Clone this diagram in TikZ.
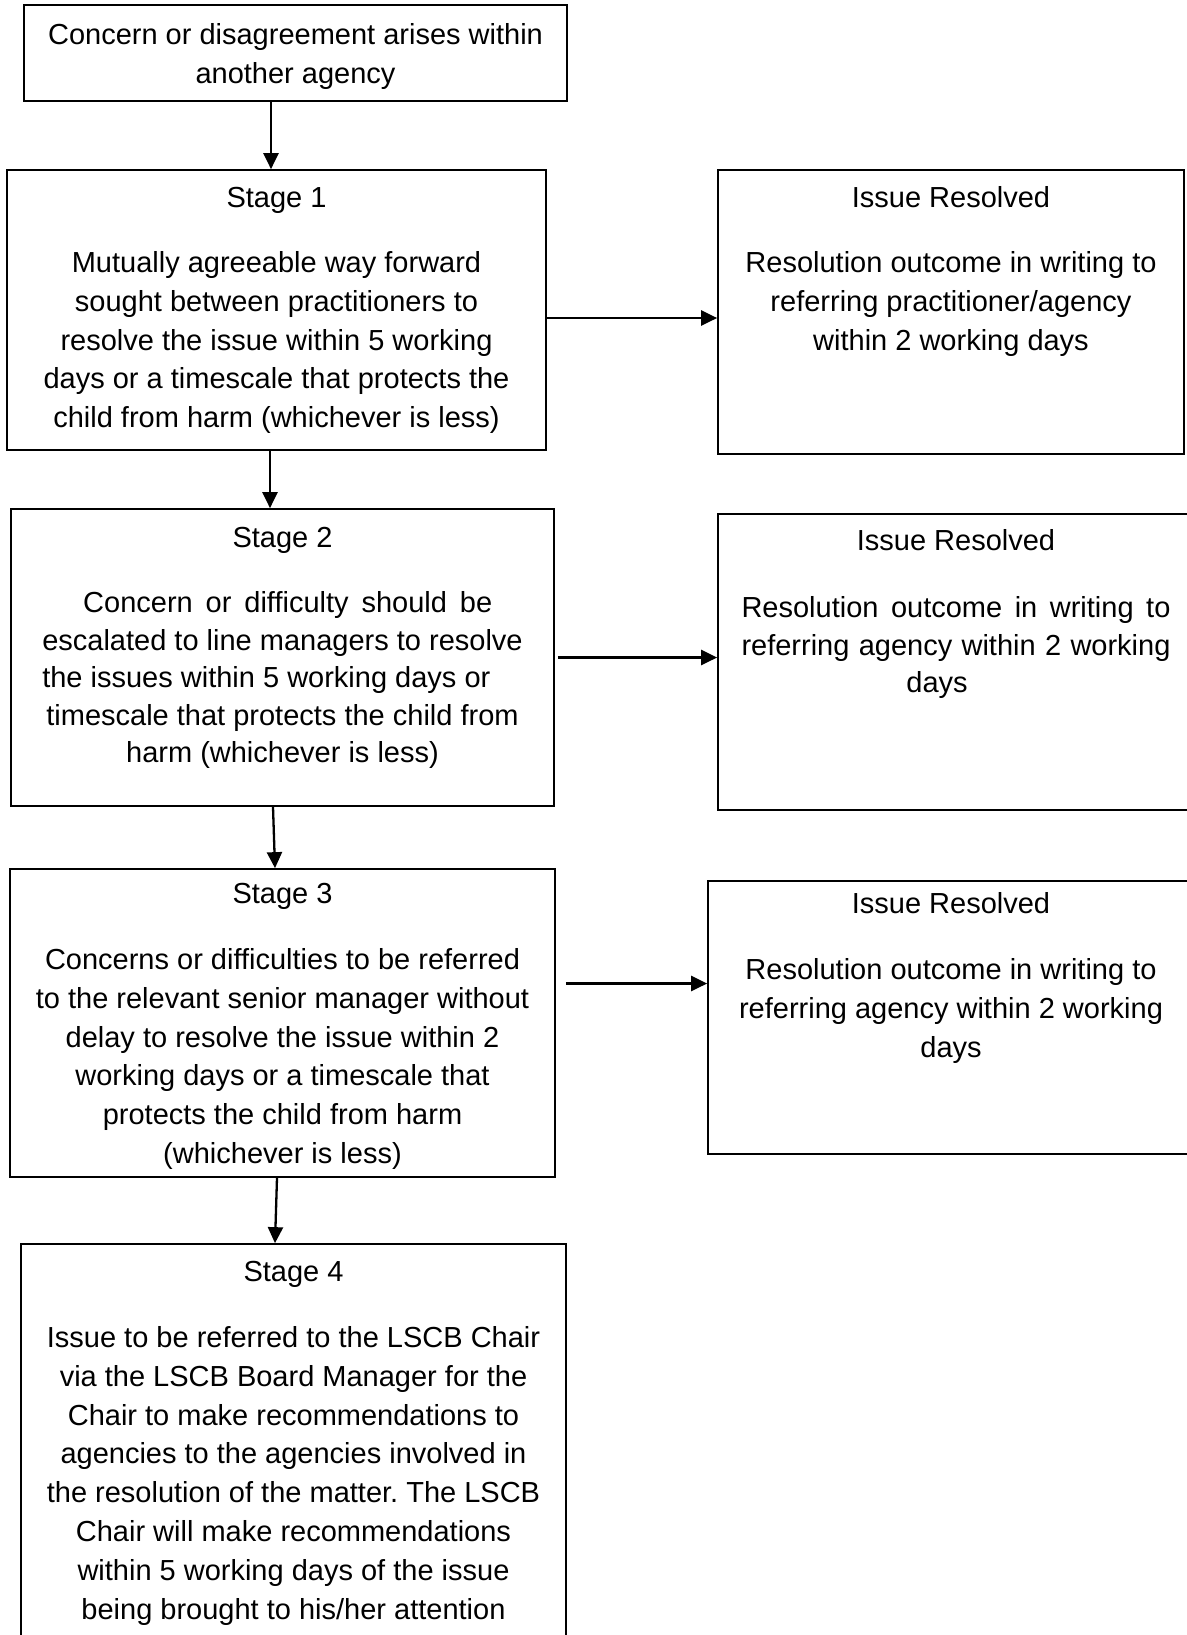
\documentclass[tikz,border=0pt]{standalone}
\usepackage{fontspec}
\setmainfont{Liberation Sans}
\usetikzlibrary{arrows.meta}
\frenchspacing

\tikzset{
  box/.style={draw, line width=0.85pt, inner sep=0pt},
  head/.style={anchor=base, inner sep=0pt, font=\fontsize{14.5pt}{19.4pt}\selectfont},
  body/.style={anchor=north, inner sep=0pt, align=center,
    font=\fontsize{14.5pt}{19.4pt}\selectfont},
  tight/.style={font=\fontsize{14.5pt}{18.8pt}\selectfont},
  arr/.style={line width=1.15pt, -{Triangle[length=8pt,width=7.5pt]}},
}
\newcommand{\fl}{\rule{0pt}{14.5pt}}

\begin{document}
\begin{tikzpicture}[x=0.5pt,y=-0.5pt]
	\fill[white] (0,0) rectangle (1187,1635);
	\useasboundingbox (0,0) rectangle (1187,1635);
	% left column
	\node[box, minimum width=271.5pt, minimum height=48pt] (top) at (295.5,53) {};
	\node[box, minimum width=269.5pt, minimum height=140pt] (s1) at (276.5,310) {};
	\node[box, minimum width=271.5pt, minimum height=148.5pt] (s2) at (282.5,657.5) {};
	\node[box, minimum width=272.5pt, minimum height=154pt] (s3) at (282.5,1023) {};
	\node[box, minimum width=272.5pt, minimum height=203pt] (s4) at (293.5,1447) {};
	% right column
	\node[box, minimum width=233pt, minimum height=142pt] (i1) at (951,312) {};
	\node[box, minimum width=238pt, minimum height=148pt] (i2) at (956,662) {};
	\node[box, minimum width=243pt, minimum height=136.5pt] (i3) at (951,1017.5) {};
	% texts
	\node[body] (topb) at ([yshift=-5.5pt]top.north) {\fl Concern or disagreement arises within\\another agency};
	\node[head] (s1h) at ([yshift=-19pt]s1.north) {Stage 1};
	\node[body] (s1b) at ([yshift=-37pt]s1.north) {\fl Mutually agreeable way forward\\sought between practitioners to\\resolve the issue within 5 working\\days or a timescale that protects the\\child from harm (whichever is less)};
	\node[head] (s2h) at ([yshift=-19.5pt]s2.north) {Stage 2};
	\node[body, tight] (s2b) at ([yshift=-37.5pt]s2.north) {\fl\hspace*{5.2pt}\makebox[204.5pt][s]{Concern or difficulty should be}\\escalated to line managers to resolve\\\makebox[240.2pt][l]{the issues within 5 working days or}\\timescale that protects the child from\\harm (whichever is less)};
	\node[head] (s3h) at ([yshift=-17.5pt]s3.north) {Stage 3};
	\node[body] (s3b) at ([yshift=-36pt]s3.north) {\fl Concerns or difficulties to be referred\\to the relevant senior manager without\\delay to resolve the issue within 2\\working days or a timescale that\\protects the child from harm\\(whichever is less)};
	\node[head] (s4h) at ([yshift=-19pt]s4.north) {Stage 4};
	\node[body] (s4b) at ([yshift=-37.5pt]s4.north) {\fl Issue to be referred to the LSCB Chair\\via the LSCB Board Manager for the\\Chair to make recommendations to\\agencies to the agencies involved in\\the resolution of the matter. The LSCB\\Chair will make recommendations\\within 5 working days of the issue\\being brought to his/her attention};
	\node[head] (i1h) at ([yshift=-19pt]i1.north) {Issue Resolved};
	\node[body] (i1b) at ([yshift=-37pt]i1.north) {\fl Resolution outcome in writing to\\referring practitioner/agency\\within 2 working days};
	\node[head] (i2h) at ([yshift=-18.5pt]i2.north) {Issue Resolved};
	\node[body, tight] (i2b) at ([yshift=-37.5pt]i2.north) {\fl\makebox[214.5pt][s]{Resolution outcome in writing to}\\\makebox[214.5pt][s]{referring agency within 2 working}\\days\rule{19pt}{0pt}};
	\node[head] (i3h) at ([yshift=-16.5pt]i3.north) {Issue Resolved};
	\node[body] (i3b) at ([yshift=-35pt]i3.north) {\fl Resolution outcome in writing to\\referring agency within 2 working\\days};
	% arrows down
	\draw[arr] ([xshift=-12.25pt]top.south) -- ([xshift=-12.25pt]top.south |- s1.north);
	\draw[arr] ([xshift=-3.25pt]s1.south) -- ([xshift=-3.25pt]s1.south |- s2.north);
	\draw[arr] ([xshift=-4.75pt]s2.south) -- ([xshift=-3.75pt]s3.north);
	\draw[arr] ([xshift=-2.75pt]s3.south) -- ([xshift=-9.25pt]s4.north);
	% arrows across
	\draw[arr] ([yshift=-4pt]s1.east) -- ([yshift=-4pt]s1.east -| i1.west);
	\draw[arr] ([xshift=1.5pt]s2.east) -- (s2.east -| i2.west);
	\draw[arr] ([xshift=5pt,yshift=19.75pt]s3.east) -- ([yshift=19.75pt]s3.east -| i3.west);
\end{tikzpicture}
\end{document}
